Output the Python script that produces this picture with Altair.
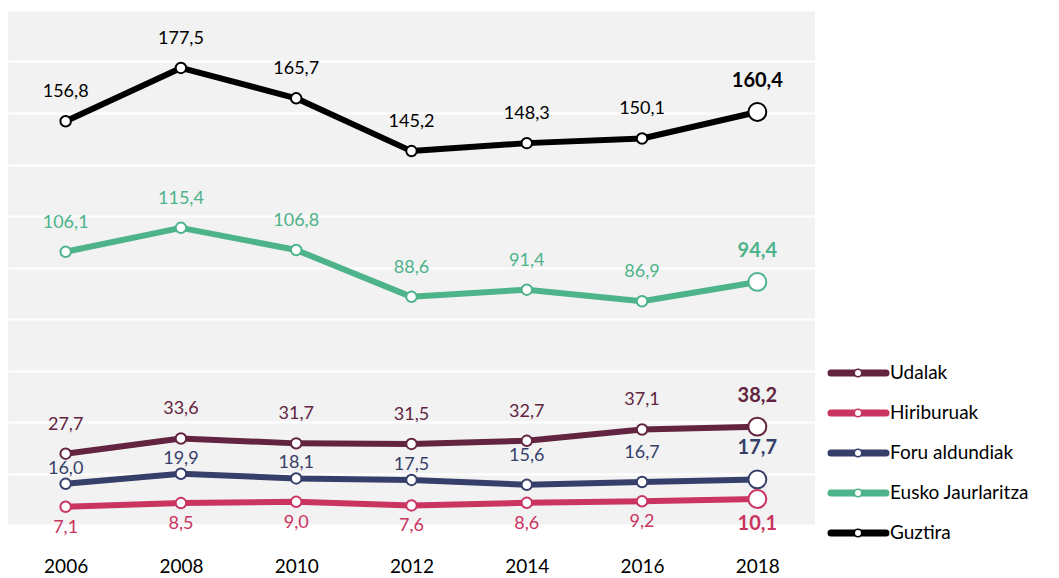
import altair as alt
import pandas as pd

years = [2006, 2008, 2010, 2012, 2014, 2016, 2018]
series_names = ["Udalak", "Hiriburuak", "Foru aldundiak", "Eusko Jaurlaritza", "Guztira"]
colors = ["#62243f", "#c93461", "#363f6a", "#4db38a", "#000000"]

udalak = [27.7, 33.6, 31.7, 31.5, 32.7, 37.1, 38.2]
hiriburuak = [7.1, 8.5, 9.0, 7.6, 8.6, 9.2, 10.1]
foru = [16.0, 19.9, 18.1, 17.5, 15.6, 16.7, 17.7]
eusko = [106.1, 115.4, 106.8, 88.6, 91.4, 86.9, 94.4]
guztira = [156.8, 177.5, 165.7, 145.2, 148.3, 150.1, 160.4]

values = {
    "Guztira": guztira,
    "Eusko Jaurlaritza": eusko,
    "Udalak": udalak,
    "Foru aldundiak": foru,
    "Hiriburuak": hiriburuak,
}

rows = []
for s, vals in values.items():
    for i, (yr, v) in enumerate(zip(years, vals)):
        if s == "Hiriburuak":
            place = "below"
        elif s == "Foru aldundiak" and (udalak[i] - v) < 15:
            place = "near"
        else:
            place = "far"
        rows.append({
            "year": str(yr), "series": s, "value": v,
            "label": f"{v:.1f}".replace(".", ","),
            "last": i == len(years) - 1, "place": place,
        })
df = pd.DataFrame(rows)

FONT = "Lato"
color_scale = alt.Scale(domain=series_names, range=colors)

x_enc = alt.X("year:O", scale=alt.Scale(type="point", padding=0.5),
              axis=alt.Axis(title=None, ticks=False, domain=False, grid=False,
                            labelFontSize=19, labelColor="#000000", labelFont=FONT,
                            labelFontWeight="normal", labelPadding=32, labelAngle=0))
y_enc = alt.Y("value:Q", scale=alt.Scale(domain=[0, 200], nice=False, zero=True),
              axis=alt.Axis(title=None, labels=False, ticks=False, domain=False,
                            grid=True, gridColor="#ffffff", gridWidth=2, gridOpacity=1,
                            values=list(range(0, 201, 20)), minExtent=0))
col = alt.Color("series:N", scale=color_scale, legend=None)
stk = alt.Stroke("series:N", scale=color_scale, legend=None)

base = alt.Chart(df)

lines = base.mark_line(strokeWidth=6, strokeJoin="round").encode(
    x=x_enc, y=y_enc, color=col)

pts = base.transform_filter("!datum.last").mark_point(
    shape="circle", fill="white", filled=False, opacity=1, size=110, strokeWidth=2
).encode(x=x_enc, y=y_enc, stroke=stk)

pts_last = base.transform_filter("datum.last").mark_point(
    shape="circle", fill="white", filled=False, opacity=1, size=320, strokeWidth=2
).encode(x=x_enc, y=y_enc, stroke=stk)

text_layers = []
offsets = {"far": (-29, -31), "near": (-15, -30), "below": (21, 25)}
for place, (dy_n, dy_b) in offsets.items():
    text_layers.append(
        base.transform_filter(f"!datum.last && datum.place == '{place}'").mark_text(
            dy=dy_n, fontSize=18, font=FONT, baseline="middle", align="center"
        ).encode(x=x_enc, y=y_enc, text="label:N", color=col)
    )
    text_layers.append(
        base.transform_filter(f"datum.last && datum.place == '{place}'").mark_text(
            dy=dy_b, fontSize=20, font=FONT, fontWeight="bold", baseline="middle", align="center"
        ).encode(x=x_enc, y=y_enc, text="label:N", color=col)
    )

main = alt.layer(lines, pts, pts_last, *text_layers)

leg_df = pd.DataFrame({"series": series_names})
leg_y = alt.Y("series:N", sort=series_names,
              scale=alt.Scale(type="point", range=[363, 523], padding=0), axis=None)
leg_base = alt.Chart(leg_df)
leg_rule = leg_base.mark_rule(strokeWidth=7, strokeCap="round").encode(
    x=alt.value(823), x2=alt.value(878), y=leg_y, color=col)
leg_pt = leg_base.mark_point(shape="circle", fill="white", filled=False, opacity=1,
                             size=55, strokeWidth=1.5).encode(
    x=alt.value(850), y=leg_y, stroke=stk)
leg_txt = leg_base.mark_text(align="left", baseline="middle", fontSize=19, font=FONT,
                             color="#000000").encode(
    x=alt.value(882), y=leg_y, text="series:N")
legend = alt.layer(leg_rule, leg_pt, leg_txt)

chart = alt.layer(main, legend).resolve_scale(y="independent").properties(
    width=807, height=515, background="white",
    padding={"left": 0, "top": 2, "right": 0, "bottom": 0},
).configure_view(fill="#f2f2f2", stroke=None)

chart.save("out.html", embed_options={"renderer": "svg", "actions": False})
